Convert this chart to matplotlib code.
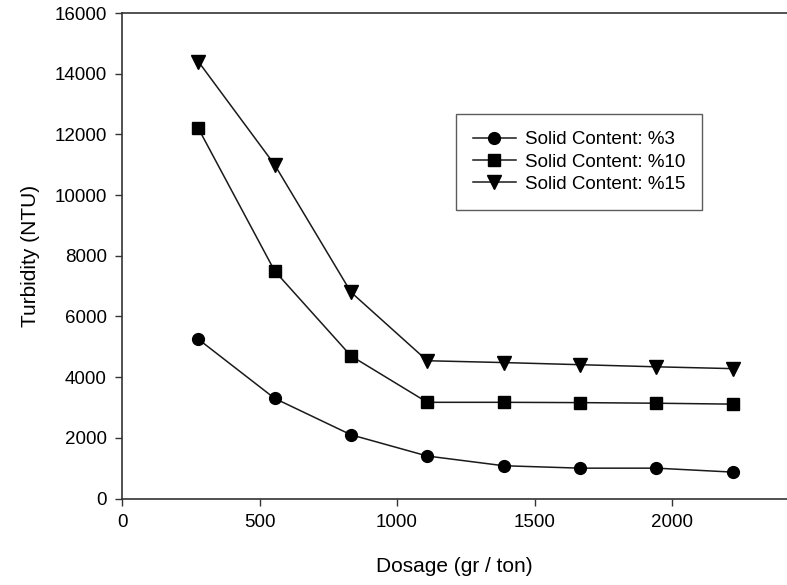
import numpy as np
import matplotlib
matplotlib.use('Agg')
from matplotlib import pyplot as plt

plt.rcParams['font.family'] = ['Liberation Sans', 'DejaVu Sans']

dosage = [277.5, 555, 832.5, 1110, 1387.5, 1665, 1942.5, 2220]
solid_3 = [5250, 3300, 2100, 1400, 1080, 1000, 1000, 870]
solid_10 = [12200, 7500, 4700, 3170, 3170, 3160, 3140, 3110]
solid_15 = [14400, 11000, 6800, 4540, 4480, 4410, 4340, 4280]
labels = ['Solid Content: %3', 'Solid Content: %10', 'Solid Content: %15']

W, H = 787, 585
fig = plt.figure(figsize=(W / 100, H / 100), dpi=100)
ax = fig.add_axes([122 / W, 1 - 498.5 / H, (W - 122) / W, (498.5 - 13) / H])

ax.plot(dosage, solid_3, '-o', color='#1a1a1a', lw=1.1, ms=8.5, mfc='black', mec='black', label=labels[0])
ax.plot(dosage, solid_10, '-s', color='#1a1a1a', lw=1.1, ms=8, mfc='black', mec='black', label=labels[1])
ax.plot(dosage, solid_15, '-v', color='#1a1a1a', lw=1.1, ms=9.5, mfc='black', mec='black', label=labels[2])

ax.set_xlim(0, 2418)
ax.set_ylim(0, 16000)
ax.set_xticks([0, 500, 1000, 1500, 2000])
ax.set_yticks(np.arange(0, 16001, 2000))

ax.spines['right'].set_visible(False)
for s in ['left', 'bottom', 'top']:
    ax.spines[s].set_linewidth(1.2)
    ax.spines[s].set_color('#333333')
ax.tick_params(direction='out', length=5, width=1.0, colors='#333333', labelsize=13.5,
               labelcolor='black', pad=6)

ax.set_xlabel('Dosage (gr / ton)', fontsize=15, labelpad=19)
ax.set_ylabel('Turbidity (NTU)', fontsize=15, labelpad=10)

leg = ax.legend(loc='upper left', bbox_to_anchor=((455.7 - 122) / (W - 122), (498.5 - 114.3) / (498.5 - 13)),
                fontsize=13.5, frameon=True, fancybox=False, handlelength=2.3,
                labelspacing=0.28, borderpad=0.9, handletextpad=0.5, borderaxespad=0)
leg.get_frame().set_edgecolor('#333333')
leg.get_frame().set_linewidth(1.0)

fig.savefig('out.png', dpi=100)
